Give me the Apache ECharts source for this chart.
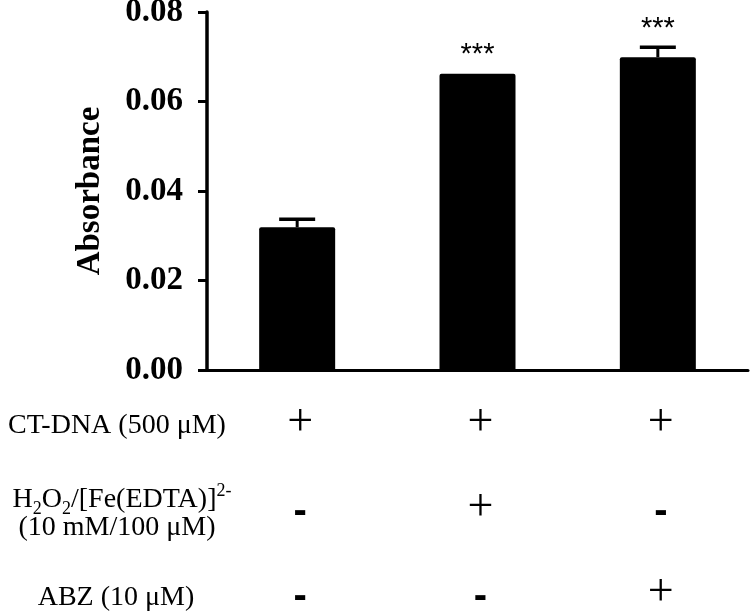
<!DOCTYPE html>
<html>
<head>
<meta charset="utf-8">
<script src="https://cdn.jsdelivr.net/npm/echarts@6/dist/echarts.min.js"></script>
<style>
  html, body { margin: 0; padding: 0; background: #fff; }
  #chart { width: 750px; height: 616px; }
</style>
</head>
<body>
<div id="chart"></div>
<script>
// groups (one bar each)
const groups = ['g1', 'g2', 'g3']
const means = [0.0319, 0.0662, 0.0699]
const errs = [0.0018, 0, 0.0022]
const sig = ['', '***', '***']
const yTicks = [0, 0.02, 0.04, 0.06, 0.08]

// treatment table under the bars
const ctDna = ['+', '+', '+']
const h2o2 = ['-', '+', '-']
const abz = ['-', '-', '+']

const serif = '"Liberation Serif", "Times New Roman", serif'
const sans = '"Liberation Sans", Arial, sans-serif'

const chart = echarts.init(document.getElementById('chart'))

const sign = s => (s === '+' ? '{p|+}' : '{m|-}')

const option = {
  animation: false,
  backgroundColor: '#fff',
  grid: { left: 207, right: 2, top: 12, bottom: 246, outerBoundsMode: 'none' },
  xAxis: {
    type: 'category',
    data: groups,
    axisLine: { lineStyle: { color: '#000', width: 3 } },
    axisTick: { alignWithLabel: true, length: 13, lineStyle: { color: '#000', width: 3 } },
    axisLabel: {
      interval: 0,
      margin: 10,
      formatter: (v, i) => [ctDna[i], h2o2[i], abz[i]].map(sign).join('\n'),
      rich: {
        p: { fontFamily: serif, fontSize: 46, color: '#000', lineHeight: 85, padding: [0, 0, 0, 6] },
        m: { fontFamily: sans, fontSize: 40, fontWeight: 'bold', color: '#000', lineHeight: 85, padding: [8, 0, 0, 6] }
      }
    }
  },
  yAxis: {
    type: 'value',
    min: yTicks[0],
    max: yTicks[yTicks.length - 1],
    interval: 0.02,
    name: 'Absorbance',
    nameLocation: 'middle',
    nameGap: 100,
    nameRotate: 90,
    nameTextStyle: { fontFamily: serif, fontSize: 33, fontWeight: 'bold', color: '#000' },
    axisLine: { show: true, lineStyle: { color: '#000', width: 3.5 } },
    axisTick: { show: true, length: 9, lineStyle: { color: '#000', width: 3 } },
    splitLine: { show: false },
    axisLabel: {
      margin: 24,
      fontFamily: serif,
      fontSize: 33,
      fontWeight: 'bold',
      color: '#000',
      formatter: v => v.toFixed(2)
    }
  },
  series: [
    {
      type: 'bar',
      data: means,
      barWidth: 76,
      itemStyle: { color: '#000', borderRadius: [2, 2, 0, 0] },
      z: 2
    },
    {
      type: 'custom',
      z: 3,
      data: means.map((m, i) => [i, m, errs[i]]),
      renderItem: (params, api) => {
        const i = api.value(0)
        const m = api.value(1)
        const e = api.value(2)
        const base = api.coord([i, m])
        const tip = api.coord([i, m + e])
        const half = 18
        const children = []
        if (e > 0) {
          children.push({
            type: 'line',
            shape: { x1: base[0], y1: base[1], x2: tip[0], y2: tip[1] },
            style: { stroke: '#000', lineWidth: 3 }
          })
          children.push({
            type: 'line',
            shape: { x1: tip[0] - half, y1: tip[1], x2: tip[0] + half, y2: tip[1] },
            style: { stroke: '#000', lineWidth: 3.5 }
          })
        }
        if (sig[i]) {
          children.push({
            type: 'text',
            style: {
              text: sig[i],
              x: tip[0],
              y: tip[1] - 4,
              align: 'center',
              verticalAlign: 'bottom',
              fontFamily: sans,
              fontSize: 29,
              fill: '#000'
            }
          })
        }
        return { type: 'group', children }
      }
    }
  ],
  graphic: [
    {
      type: 'text', x: 117, y: 426,
      style: { text: 'CT-DNA (500 μM)', fontFamily: serif, fontSize: 28, fill: '#000', align: 'center', verticalAlign: 'middle' }
    },
    {
      type: 'text', x: 122, y: 500,
      style: {
        text: '{n|H}{sub|2}{n|O}{sub|2}{n|/[Fe(EDTA)]}{sup|2-}',
        align: 'center',
        verticalAlign: 'middle',
        rich: {
          n: { fontFamily: serif, fontSize: 28, fill: '#000', lineHeight: 36 },
          sub: { fontFamily: serif, fontSize: 18, fill: '#000', lineHeight: 18, verticalAlign: 'bottom' },
          sup: { fontFamily: serif, fontSize: 18, fill: '#000', lineHeight: 18, verticalAlign: 'top' }
        }
      }
    },
    {
      type: 'text', x: 117, y: 528,
      style: { text: '(10 mM/100 μM)', fontFamily: serif, fontSize: 28, fill: '#000', align: 'center', verticalAlign: 'middle' }
    },
    {
      type: 'text', x: 116, y: 598,
      style: { text: 'ABZ (10 μM)', fontFamily: serif, fontSize: 28, fill: '#000', align: 'center', verticalAlign: 'middle' }
    }
  ]
}

chart.setOption(option)
</script>
</body>
</html>
